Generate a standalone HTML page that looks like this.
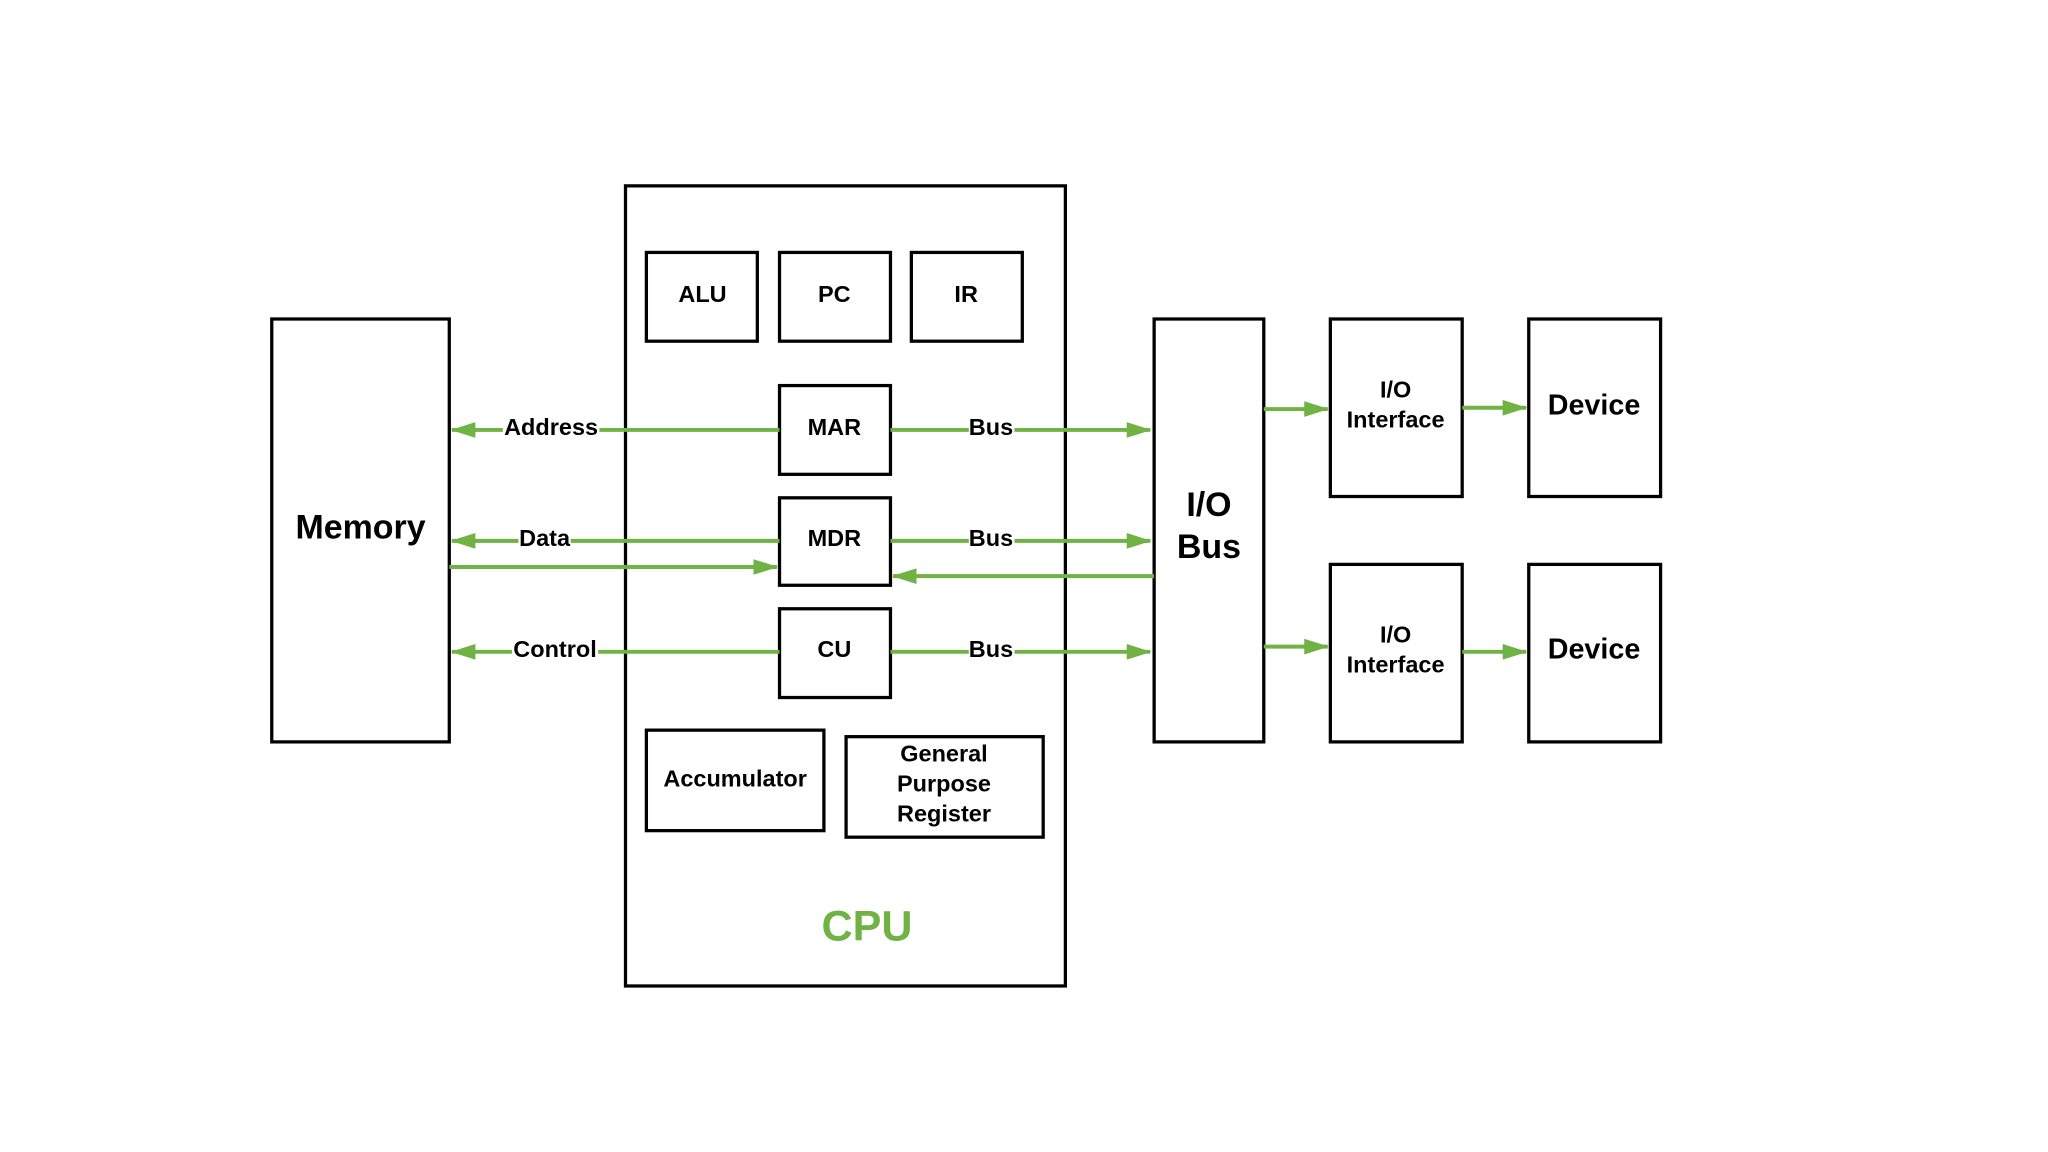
<!DOCTYPE html>
<html><head><meta charset="utf-8"><style>
html,body{margin:0;padding:0;background:#fff;}
svg{display:block;}
text{font-family:"Liberation Sans",sans-serif;font-weight:bold;fill:#000;text-anchor:middle;}
</style></head><body>
<svg width="2048" height="1152" viewBox="-1.2 -1.4 1569 882.6" preserveAspectRatio="none" xmlns="http://www.w3.org/2000/svg">
<defs>
<marker id="b" markerWidth="20" markerHeight="12" refX="18" refY="6" orient="auto" markerUnits="userSpaceOnUse"><path d="M0,0 L19,6 L0,12z" fill="#70b244"/></marker>
</defs>
<g fill="none" stroke="#000" stroke-width="2.5">
<rect x="207" y="243" width="136" height="324"/>
<rect x="478" y="141" width="337" height="613"/>
<rect x="494" y="192" width="85" height="68"/>
<rect x="596" y="192" width="85" height="68"/>
<rect x="697" y="192" width="85" height="68"/>
<rect x="596" y="294" width="85" height="68"/>
<rect x="596" y="380" width="85" height="67"/>
<rect x="596" y="465" width="85" height="68"/>
<rect x="494" y="558" width="136" height="77"/>
<rect x="647" y="563" width="151" height="77"/>
<rect x="883" y="243" width="84" height="324"/>
<rect x="1018" y="243" width="101" height="136"/>
<rect x="1018" y="431" width="101" height="136"/>
<rect x="1170" y="243" width="101" height="136"/>
<rect x="1170" y="431" width="101" height="136"/>
</g>
<g stroke="#70b244" stroke-width="3" fill="none" marker-end="url(#b)">
<line x1="596" y1="328" x2="345" y2="328"/>
<line x1="596" y1="413" x2="345" y2="413"/>
<line x1="343" y1="433" x2="594" y2="433"/>
<line x1="596" y1="498" x2="345" y2="498"/>
<line x1="681" y1="328" x2="880" y2="328"/>
<line x1="681" y1="413" x2="880" y2="413"/>
<line x1="681" y1="498" x2="880" y2="498"/>
<line x1="883" y1="440" x2="683" y2="440"/>
<line x1="967" y1="312" x2="1016" y2="312"/>
<line x1="967" y1="494" x2="1016" y2="494"/>
<line x1="1119" y1="311" x2="1168" y2="311"/>
<line x1="1119" y1="498" x2="1168" y2="498"/>
</g>
<g font-size="18">
<rect x="384" y="316" width="74" height="20" fill="#fff"/><text x="421" y="332">Address</text>
<rect x="396" y="401" width="40" height="20" fill="#fff"/><text x="416" y="417">Data</text>
<rect x="391" y="486" width="66" height="20" fill="#fff"/><text x="424" y="502">Control</text>
<rect x="741" y="316" width="35" height="20" fill="#fff"/><text x="758" y="332">Bus</text>
<rect x="741" y="401" width="35" height="20" fill="#fff"/><text x="758" y="417">Bus</text>
<rect x="741" y="486" width="35" height="20" fill="#fff"/><text x="758" y="502">Bus</text>
<text x="537" y="230">ALU</text>
<text x="638" y="230">PC</text>
<text x="739" y="230">IR</text>
<text x="638" y="332">MAR</text>
<text x="638" y="417">MDR</text>
<text x="638" y="502">CU</text>
<text x="562" y="601">Accumulator</text>
<text x="722" y="582">General</text>
<text x="722" y="605">Purpose</text>
<text x="722" y="628">Register</text>
<text x="1068" y="303">I/O</text>
<text x="1068" y="326">Interface</text>
<text x="1068" y="491">I/O</text>
<text x="1068" y="514">Interface</text>
</g>
<text x="275" y="411" font-size="26">Memory</text>
<text x="925" y="394" font-size="26">I/O</text>
<text x="925" y="426" font-size="26">Bus</text>
<text x="1220" y="316" font-size="22">Device</text>
<text x="1220" y="503" font-size="22">Device</text>
<text x="663" y="719" font-size="33" style="fill:#70b244">CPU</text>
</svg>
</body></html>
